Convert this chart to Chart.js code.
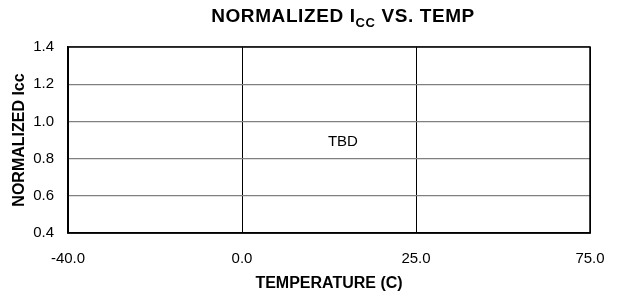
<!DOCTYPE html>
<html>
<head>
<meta charset="utf-8">
<script src="https://cdn.jsdelivr.net/npm/chart.js@4.4.0/dist/chart.umd.min.js"></script>
<style>
  html, body { margin: 0; padding: 0; background: #fff; }
  #wrap { width: 623px; height: 301px; }
</style>
</head>
<body>
<div id="wrap"><canvas id="grafico"></canvas></div>
<script>
// temperature categories (evenly spaced on the original sheet)
const temps = ['-40.0', '0.0', '25.0', '75.0'];
// y axis range
const yTicks = [0.4, 0.6, 0.8, 1.0, 1.2, 1.4];
// no measured data yet, only the TBD note
const iccValues = [];
const noteText = 'TBD';
const notePos = { x: 1.58, y: 0.89 };

const titleParts = [
  { text: 'NORMALIZED I', sub: false },
  { text: 'CC', sub: true },
  { text: ' VS. TEMP', sub: false },
];

const tituloPlugin = {
  id: 'tituloPlugin',
  afterDraw(chart) {
    const ctx = chart.ctx;
    const big = 'bold 19px "Liberation Sans", Arial, sans-serif';
    const small = 'bold 13px "Liberation Sans", Arial, sans-serif';
    ctx.save();
    ctx.fillStyle = '#000';
    ctx.textBaseline = 'alphabetic';
    ctx.textAlign = 'left';
    ctx.letterSpacing = '0.6px';
    let total = 0;
    titleParts.forEach((p) => {
      ctx.font = p.sub ? small : big;
      total += ctx.measureText(p.text).width;
    });
    let x = 343 - total / 2;
    titleParts.forEach((p) => {
      ctx.font = p.sub ? small : big;
      ctx.fillText(p.text, x, p.sub ? 27 : 22);
      x += ctx.measureText(p.text).width;
    });
    ctx.letterSpacing = '0px';

    // TBD note placed through the scales
    const sx = chart.scales.x;
    const sy = chart.scales.y;
    ctx.font = '15px "Liberation Sans", Arial, sans-serif';
    ctx.textAlign = 'center';
    ctx.textBaseline = 'middle';
    ctx.fillText(noteText, sx.getPixelForValue(notePos.x), sy.getPixelForValue(notePos.y));

    // black frame around plot
    const a = chart.chartArea;
    ctx.strokeStyle = '#000';
    ctx.lineWidth = 1.5;
    ctx.strokeRect(a.left, a.top, a.right - a.left, a.bottom - a.top);
    ctx.restore();
  },
};

const ctx = document.getElementById('grafico');
new Chart(ctx, {
  type: 'line',
  data: {
    labels: temps,
    datasets: [
      {
        label: 'Icc',
        data: iccValues,
        borderColor: '#000',
      },
    ],
  },
  options: {
    responsive: true,
    maintainAspectRatio: false,
    animation: false,
    layout: {
      padding: { top: 47, right: 33, bottom: 0, left: 0 },
    },
    plugins: {
      legend: { display: false },
      tooltip: { enabled: false },
    },
    scales: {
      x: {
        type: 'category',
        offset: false,
        afterFit: (scale) => {
          scale.height = 68;
        },
        grid: {
          color: '#000',
          lineWidth: 1,
          drawTicks: false,
        },
        border: { color: '#000', width: 1.5 },
        ticks: {
          color: '#000',
          padding: 17,
          maxRotation: 0,
          autoSkip: false,
          font: { family: '"Liberation Sans", Arial, sans-serif', size: 15 },
        },
        title: {
          display: true,
          text: 'TEMPERATURE (C)',
          color: '#000',
          padding: { top: 0, bottom: 8 },
          font: { family: '"Liberation Sans", Arial, sans-serif', size: 16, weight: 'bold' },
        },
      },
      y: {
        min: yTicks[0],
        max: yTicks[yTicks.length - 1],
        afterFit: (scale) => {
          scale.width = 68;
        },
        afterBuildTicks: (scale) => {
          scale.ticks = yTicks.map((v) => ({ value: v }));
        },
        grid: {
          color: '#808080',
          lineWidth: 1.2,
          drawTicks: false,
        },
        border: { color: '#000', width: 1.5 },
        ticks: {
          color: '#000',
          padding: 14,
          callback: (v) => Number(v).toFixed(1),
          font: { family: '"Liberation Sans", Arial, sans-serif', size: 15 },
        },
        title: {
          display: true,
          text: 'NORMALIZED Icc',
          color: '#000',
          padding: { top: 10, bottom: 0 },
          font: { family: '"Liberation Sans", Arial, sans-serif', size: 16, weight: 'bold' },
        },
      },
    },
  },
  plugins: [tituloPlugin],
});
</script>
</body>
</html>
